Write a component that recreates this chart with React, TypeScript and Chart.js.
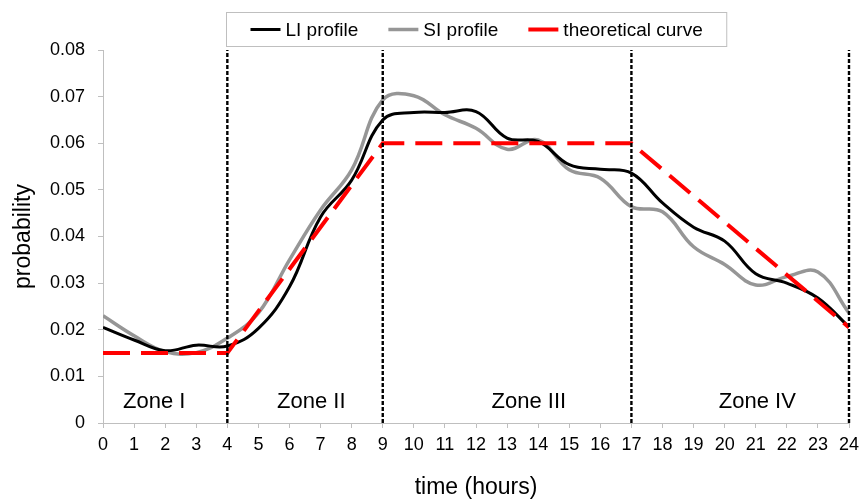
import React, { useEffect, useRef } from "react";
import { Chart, registerables } from "chart.js";

Chart.register(...registerables);

const FONT = "'Liberation Sans', Arial, Helvetica, sans-serif";

// ---- data ----
const hours = [0, 1, 2, 3, 4, 5, 6, 7, 8, 9, 10, 11, 12, 13, 14, 15, 16, 17, 18, 19, 20, 21, 22, 23, 24];
const liProfile = [
  0.0205, 0.0178, 0.0155, 0.0167, 0.0165, 0.0203, 0.0292, 0.0442, 0.0521, 0.065, 0.0666, 0.0666, 0.0668,
  0.0611, 0.0604, 0.0554, 0.0544, 0.0536, 0.0472, 0.042, 0.039, 0.032, 0.030, 0.0268, 0.0206,
];
const siProfile = [
  0.023, 0.0187, 0.0153, 0.0151, 0.0182, 0.0236, 0.035, 0.0457, 0.0543, 0.0693, 0.0702, 0.0661, 0.0632,
  0.0587, 0.0607, 0.0543, 0.0525, 0.0464, 0.0453, 0.0378, 0.034, 0.0296, 0.0314, 0.0324, 0.0236,
];
const theoryHours = [0, 4, 9, 17, 24];
const theoryValues = [0.015, 0.015, 0.06, 0.06, 0.0205];
const zoneBounds = [4, 9, 17, 24];
const zoneLabels = ["Zone I", "Zone II", "Zone III", "Zone IV"];
const zoneLabelX = [1.65, 6.7, 13.7, 21.05];
const zoneLabelY = 0.0045;
const seriesNames = ["LI profile", "SI profile", "theoretical curve"];

const legendPlugin = {
  id: "boxedLegend",
  afterDraw(chart: any) {
    const ctx = chart.ctx;
    const area = chart.chartArea;
    const ds = chart.data.datasets.filter((d: any) => d.showInBoxLegend);
    const fontSize = 19;
    ctx.save();
    ctx.font = `${fontSize}px ${FONT}`;
    const lineLen = 30, gapText = 5, gapItem = 30, padX = 24;
    const widths = ds.map((d: any) => ctx.measureText(d.label).width);
    let total = 0;
    widths.forEach((w: number, i: number) => {
      total += lineLen + gapText + w + (i < widths.length - 1 ? gapItem : 0);
    });
    const boxW = total + padX * 2;
    const cx = (area.left + area.right) / 2;
    const boxX = Math.round(cx - boxW / 2) + 0.5;
    const boxY = 12.5;
    const boxH = 34;
    ctx.fillStyle = "#ffffff";
    ctx.fillRect(boxX, boxY, boxW, boxH);
    ctx.strokeStyle = "#bfbfbf";
    ctx.lineWidth = 1;
    ctx.strokeRect(boxX, boxY, boxW, boxH);
    let x = boxX + padX;
    const yMid = boxY + boxH / 2;
    ds.forEach((d: any, i: number) => {
      ctx.strokeStyle = d.borderColor;
      ctx.lineWidth = d.borderWidth;
      ctx.setLineDash([]);
      ctx.beginPath();
      ctx.moveTo(x, yMid);
      ctx.lineTo(x + lineLen, yMid);
      ctx.stroke();
      x += lineLen + gapText;
      ctx.fillStyle = "#000";
      ctx.textAlign = "left";
      ctx.textBaseline = "middle";
      ctx.fillText(d.label, x, yMid + 1);
      x += widths[i] + gapItem;
    });
    ctx.restore();
  },
};

const zoneLabelPlugin = {
  id: "zoneLabels",
  afterDatasetsDraw(chart: any) {
    const ctx = chart.ctx;
    const xs = chart.scales.x;
    const ys = chart.scales.y;
    ctx.save();
    ctx.font = `22px ${FONT}`;
    ctx.fillStyle = "#000";
    ctx.textAlign = "center";
    ctx.textBaseline = "middle";
    zoneLabels.forEach((t, i) => {
      ctx.fillText(t, xs.getPixelForValue(zoneLabelX[i]), ys.getPixelForValue(zoneLabelY));
    });
    ctx.restore();
  },
};

export default function App() {
  const ref = useRef<HTMLCanvasElement>(null);
  useEffect(() => {
    if (!ref.current) return;
    const boundSets = zoneBounds.map((b) => ({
      label: "bound" + b,
      data: [
        { x: b, y: 0 },
        { x: b, y: 0.08 },
      ],
      borderColor: "#000000",
      borderWidth: 2.4,
      borderDash: [4, 2],
      pointRadius: 0,
      tension: 0,
      order: 0,
      clip: 4,
      showInBoxLegend: false,
    }));
    const chart = new Chart(ref.current, {
      type: "line",
      data: {
        datasets: [
          {
            label: seriesNames[0],
            data: hours.map((h, i) => ({ x: h, y: liProfile[i] })),
            borderColor: "#000000",
            borderWidth: 3,
            pointRadius: 0,
            tension: 0.4,
            fill: false,
            order: 2,
            showInBoxLegend: true,
          } as any,
          {
            label: seriesNames[1],
            data: hours.map((h, i) => ({ x: h, y: siProfile[i] })),
            borderColor: "#969696",
            borderWidth: 3.5,
            pointRadius: 0,
            tension: 0.4,
            fill: false,
            order: 3,
            showInBoxLegend: true,
          },
          {
            label: seriesNames[2],
            data: theoryHours.map((h, i) => ({ x: h, y: theoryValues[i] })),
            borderColor: "#ff0000",
            borderWidth: 4,
            borderDash: [27, 11],
            pointRadius: 0,
            tension: 0,
            fill: false,
            order: 1,
            showInBoxLegend: true,
          },
          ...boundSets,
        ],
      },
      options: {
        animation: false,
        responsive: false,
        layout: { padding: { top: 50, right: 12, left: 0, bottom: 0 } },
        plugins: {
          legend: { display: false },
          tooltip: { enabled: false },
        },
        scales: {
          x: {
            type: "linear",
            min: 0,
            max: 24,
            ticks: {
              stepSize: 1,
              autoSkip: false,
              maxRotation: 0,
              padding: 6,
              color: "#000",
              font: { family: FONT, size: 18 },
            },
            grid: { drawOnChartArea: false, drawTicks: true, tickLength: 5, color: "#bfbfbf" },
            border: { color: "#bfbfbf", width: 1 },
            title: {
              display: true,
              text: "time (hours)",
              color: "#000",
              font: { family: FONT, size: 23 },
              padding: { top: 0, bottom: 2 },
            },
            afterFit: (s: any) => {
              s.height = 80;
              s.paddingLeft = 0;
              s.paddingRight = 0;
            },
          },
          y: {
            type: "linear",
            min: 0,
            max: 0.08,
            ticks: {
              stepSize: 0.01,
              padding: 13,
              color: "#000",
              font: { family: FONT, size: 18 },
              callback: (v: any) => String(Math.round(Number(v) * 100) / 100),
            },
            grid: { drawOnChartArea: false, drawTicks: true, tickLength: 5, color: "#bfbfbf" },
            border: { color: "#bfbfbf", width: 1 },
            title: {
              display: true,
              text: "probability",
              color: "#000",
              font: { family: FONT, size: 23 },
              padding: { top: 10, bottom: 0 },
            },
            afterFit: (s: any) => {
              s.width = 103;
              s.paddingTop = 0;
              s.paddingBottom = 0;
            },
          },
        },
      } as any,
      plugins: [zoneLabelPlugin, legendPlugin],
    });
    return () => chart.destroy();
  }, []);
  return (
    <div style={{ position: "absolute", left: 0, top: 0, width: 861, height: 503, background: "#fff" }}>
      <canvas ref={ref} width={861} height={503} style={{ display: "block" }} />
    </div>
  );
}
